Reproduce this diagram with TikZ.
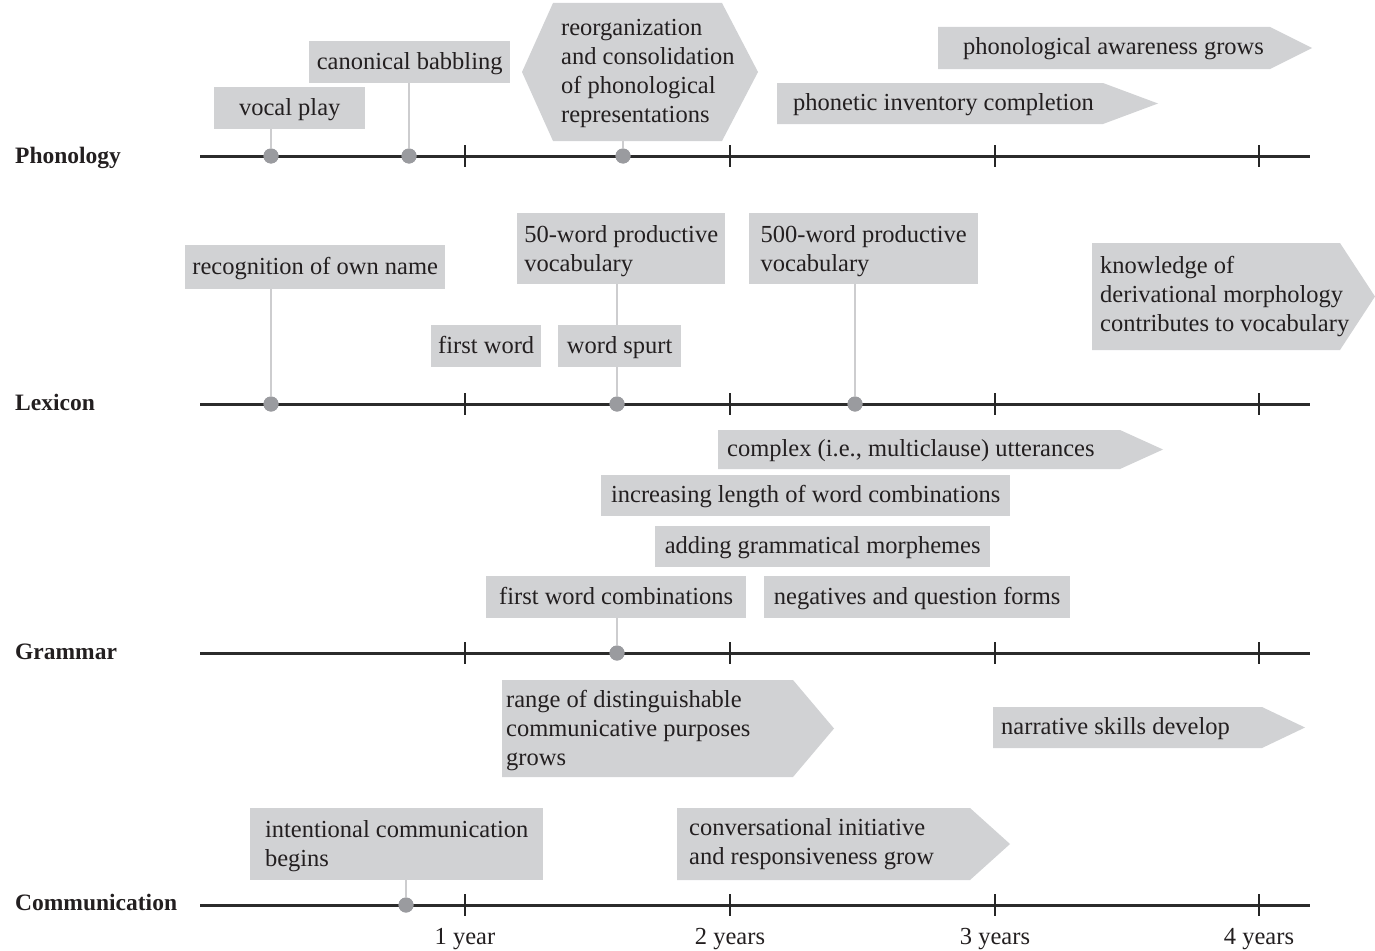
\documentclass[tikz,border=0pt]{standalone}
\usepackage{fontspec}
\setmainfont{Liberation Serif}
\usetikzlibrary{calc}
\definecolor{boxgray}{HTML}{D1D2D4}
\definecolor{dotgray}{HTML}{9A9B9F}
\definecolor{stemgray}{HTML}{CDCDCF}
\definecolor{axisc}{HTML}{2B2B2B}
\definecolor{txtc}{HTML}{231F20}
\newcommand\fsz{\fontsize{24.5}{29}\selectfont}
\newcommand\lblsz{\fontsize{23.5}{29}\selectfont}
% #1 name, #2 x1, #3 y1, #4 rect end x, #5 y2, #6 tip x, #7 text x, #8 text, #9 extra style
\newcommand\abox[9]{%
  \fill[boxgray] (#2,#3) -- (#4,#3) -- (#6,{(#3+#5)/2}) -- (#4,#5) -- (#2,#5) -- cycle;
  \node[txt, anchor=west, align=left, #9] (#1) at (#7,{(#3+#5)/2}) {#8};
}
\begin{document}
\begin{tikzpicture}[x=1pt,y=-1pt,
  txt/.style={font=\fsz, text=txtc, inner sep=0pt},
  one/.style={text height=18, text depth=4},
  multi/.style={text depth=1},
  box/.style={txt, fill=boxgray, anchor=north west, align=left},
  dot/.style={circle, fill=dotgray, inner sep=0pt, minimum size=15},
  stem/.style={stemgray, line width=2.2},
  axis/.style={axisc, line width=3},
  tickmark/.style={black!85, line width=1.1},
  rowlabel/.style={font=\lblsz\bfseries, text=txtc, inner sep=0pt, anchor=base west},
  yearlabel/.style={font=\fsz, text=txtc, inner sep=0pt, anchor=base}]
\useasboundingbox (0,0) rectangle (1375,950);

% ---------- axes ----------
\foreach \n/\y in {ph/156, lx/404, gr/653, cm/905}{
  \coordinate (\n s) at (200,\y);
  \coordinate (\n e) at (1310,\y);
  \draw[axis] (\n s) -- (\n e);
  \foreach \x in {465,730,995,1259}{
    \draw[tickmark] (\x,\y-11) -- (\x,\y+11);
  }
}

% row labels
\node[rowlabel] (lph) at (15,163) {Phonology};
\node[rowlabel] (llx) at (15,410) {Lexicon};
\node[rowlabel] (lgr) at (15,659) {Grammar};
\node[rowlabel] (lcm) at (15,910) {Communication};

% year labels
\node[yearlabel] (y1) at (465,944) {1 year};
\node[yearlabel] (y2) at (730,944) {2 years};
\node[yearlabel] (y3) at (995,944) {3 years};
\node[yearlabel] (y4) at (1259,944) {4 years};

% ---------- Phonology ----------
\node[box, one, minimum width=151, minimum height=42, align=center] (vocal) at (214,87) {vocal play};
\node[box, one, minimum width=201, minimum height=42, align=center] (canon) at (309,41) {canonical babbling};
\fill[boxgray] (522,72) -- (553,3) -- (722,3) -- (758,72) -- (722,141) -- (553,141) -- cycle;
\coordinate (hexb) at (623,141);
\node[txt, multi, anchor=west, align=left] (hex) at (561,71.5) {reorganization\\and consolidation\\of phonological\\representations};
\abox{pa}{938}{27}{1270}{69}{1312}{963}{phonological awareness grows}{one}
\abox{pi}{777}{83}{1103}{124}{1158}{793}{phonetic inventory completion}{one}

\node[dot] (p1) at (271,156) {};
\node[dot] (p2) at (409,156) {};
\node[dot] (p3) at (623,156) {};
\draw[stem] (vocal.south -| p1) -- (p1);
\draw[stem] (canon.south -| p2) -- (p2);
\draw[stem] (hexb) -- (p3);
\node[dot] at (p1) {};
\node[dot] at (p2) {};
\node[dot] at (p3) {};

% ---------- Lexicon ----------
\node[box, one, minimum width=260, minimum height=44, align=center] (recog) at (185,245) {recognition of own name};
\node[box, multi, minimum width=208, minimum height=71] (fifty) at (517,213) {50-word productive\\vocabulary};
\node[box, one, minimum width=110, minimum height=42, align=center] (fword) at (431,325) {first word};
\node[box, one, minimum width=123, minimum height=42, align=center] (spurt) at (558,325) {word spurt};
\node[box, multi, minimum width=229, minimum height=71] (five) at (749,213) {500-word productive\\vocabulary};
\abox{know}{1092}{243}{1340}{350}{1375}{1100}{knowledge of\\derivational morphology\\contributes to vocabulary}{}

\node[dot] (l1) at (271,404) {};
\node[dot] (l2) at (617,404) {};
\node[dot] (l3) at (855,404) {};
\draw[stem] (recog.south -| l1) -- (l1);
\draw[stem] (fifty.south -| l2) -- (spurt.north -| l2);
\draw[stem] (spurt.south -| l2) -- (l2);
\draw[stem] (five.south -| l3) -- (l3);
\node[dot] at (l1) {};
\node[dot] at (l2) {};
\node[dot] at (l3) {};

% ---------- Grammar ----------
\abox{complex}{718}{430}{1120}{469}{1163}{727}{complex (i.e., multiclause) utterances}{one}
\node[box, one, minimum width=409, minimum height=41, align=center] (incr) at (601,475) {increasing length of word combinations};
\node[box, one, minimum width=335, minimum height=41, align=center] (adding) at (655,526) {adding grammatical morphemes};
\node[box, one, minimum width=260, minimum height=42, align=center] (fwc) at (486,576) {first word combinations};
\node[box, one, minimum width=306, minimum height=42, align=center] (neg) at (764,576) {negatives and question forms};

\node[dot] (g1) at (617,653) {};
\draw[stem] (fwc.south -| g1) -- (g1);
\node[dot] at (g1) {};

% ---------- Communication ----------
\abox{range}{502}{680}{793}{777}{834}{506}{range of distinguishable\\communicative purposes\\grows}{multi}
\abox{narr}{993}{707}{1262}{748}{1305}{1001}{narrative skills develop}{one}
\node[box, multi, minimum width=293, minimum height=72] (intent) at (250,808) {intentional communication\\begins};
\abox{conv}{677}{808}{970}{880}{1010}{689}{conversational initiative\\and responsiveness grow}{}

\node[dot] (c1) at (406,905) {};
\draw[stem] (intent.south -| c1) -- (c1);
\node[dot] at (c1) {};
\end{tikzpicture}
\end{document}
